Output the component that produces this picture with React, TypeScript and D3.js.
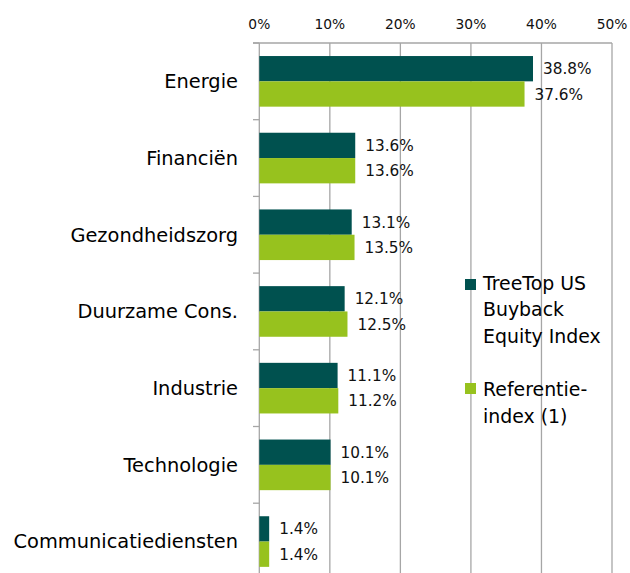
import React from "react";
import * as d3 from "d3";

const categories = ["Energie", "Financiën", "Gezondheidszorg", "Duurzame Cons.", "Industrie", "Technologie", "Communicatiediensten"];
const treeTop = [38.8, 13.6, 13.1, 12.1, 11.1, 10.1, 1.4];
const referentie = [37.6, 13.6, 13.5, 12.5, 11.2, 10.1, 1.4];
const xTicks = [0, 10, 20, 30, 40, 50];
const seriesNames = ["TreeTop US", "Referentie"];
const legend1 = ["TreeTop US", "Buyback", "Equity Index"];
const legend2 = ["Referentie-", "index (1)"];

const DARK = "#00514F";
const LIGHT = "#97C21E";
const GRID = "#A6A6A6";
const FONT = "'DejaVu Sans', Verdana, sans-serif";

export default function App() {
  const W = 630, H = 573;
  const top = 43;
  const step = 76.7;
  const x = d3.scaleLinear().domain([0, 50]).range([259.3, 612]);
  const y0 = d3.scaleBand<string>().domain(categories).range([top, top + step * categories.length]).paddingInner(0.34).paddingOuter(0.17);
  const y1 = d3.scaleBand<string>().domain(seriesNames).range([0, y0.bandwidth()]);
  const bottom = top + step * categories.length;
  const series = [
    { name: seriesNames[0], values: treeTop, color: DARK },
    { name: seriesNames[1], values: referentie, color: LIGHT },
  ];
  const fmt = (v: number) => v.toFixed(1) + "%";

  return (
    <svg width={W} height={H} style={{ position: "absolute", left: 0, top: 0, background: "#fff" }} fontFamily={FONT}>
      {xTicks.map((t) => (
        <line key={"g" + t} x1={x(t)} x2={x(t)} y1={top} y2={bottom} stroke={GRID} strokeWidth={1.3} />
      ))}
      <line x1={253} x2={x(50)} y1={top} y2={top} stroke={GRID} strokeWidth={1.3} />
      {categories.map((c, i) => (
        <line key={"t" + i} x1={253} x2={x(0)} y1={top + step * i} y2={top + step * i} stroke={GRID} strokeWidth={1.3} />
      ))}
      {xTicks.map((t) => (
        <text key={"l" + t} x={x(t)} y={29} textAnchor="middle" fontSize={13.8} fill="#111">{t}%</text>
      ))}
      {categories.map((c) => (
        <text key={"c" + c} x={238} y={(y0(c) as number) + y0.bandwidth() / 2} dy="0.35em" textAnchor="end" fontSize={19.4} fill="#000">{c}</text>
      ))}
      {series.map((s) =>
        categories.map((c, i) => {
          const yy = (y0(c) as number) + (y1(s.name) as number);
          const w = x(s.values[i]) - x(0);
          return (
            <g key={s.name + c}>
              <rect x={x(0)} y={yy} width={w} height={y1.bandwidth()} fill={s.color} />
              <text x={x(s.values[i]) + 10} y={yy + y1.bandwidth() / 2} dy="0.36em" fontSize={15.3} fill="#111">{fmt(s.values[i])}</text>
            </g>
          );
        })
      )}
      <rect x={465} y={279} width={11} height={11} fill={DARK} />
      {legend1.map((t, i) => (
        <text key={"a" + i} x={483} y={289.5 + i * 26.8} fontSize={18.9} fill="#000">{t}</text>
      ))}
      <rect x={465} y={383} width={11} height={11} fill={LIGHT} />
      {legend2.map((t, i) => (
        <text key={"b" + i} x={483} y={396 + i * 26.8} fontSize={18.9} fill="#000">{t}</text>
      ))}
    </svg>
  );
}
